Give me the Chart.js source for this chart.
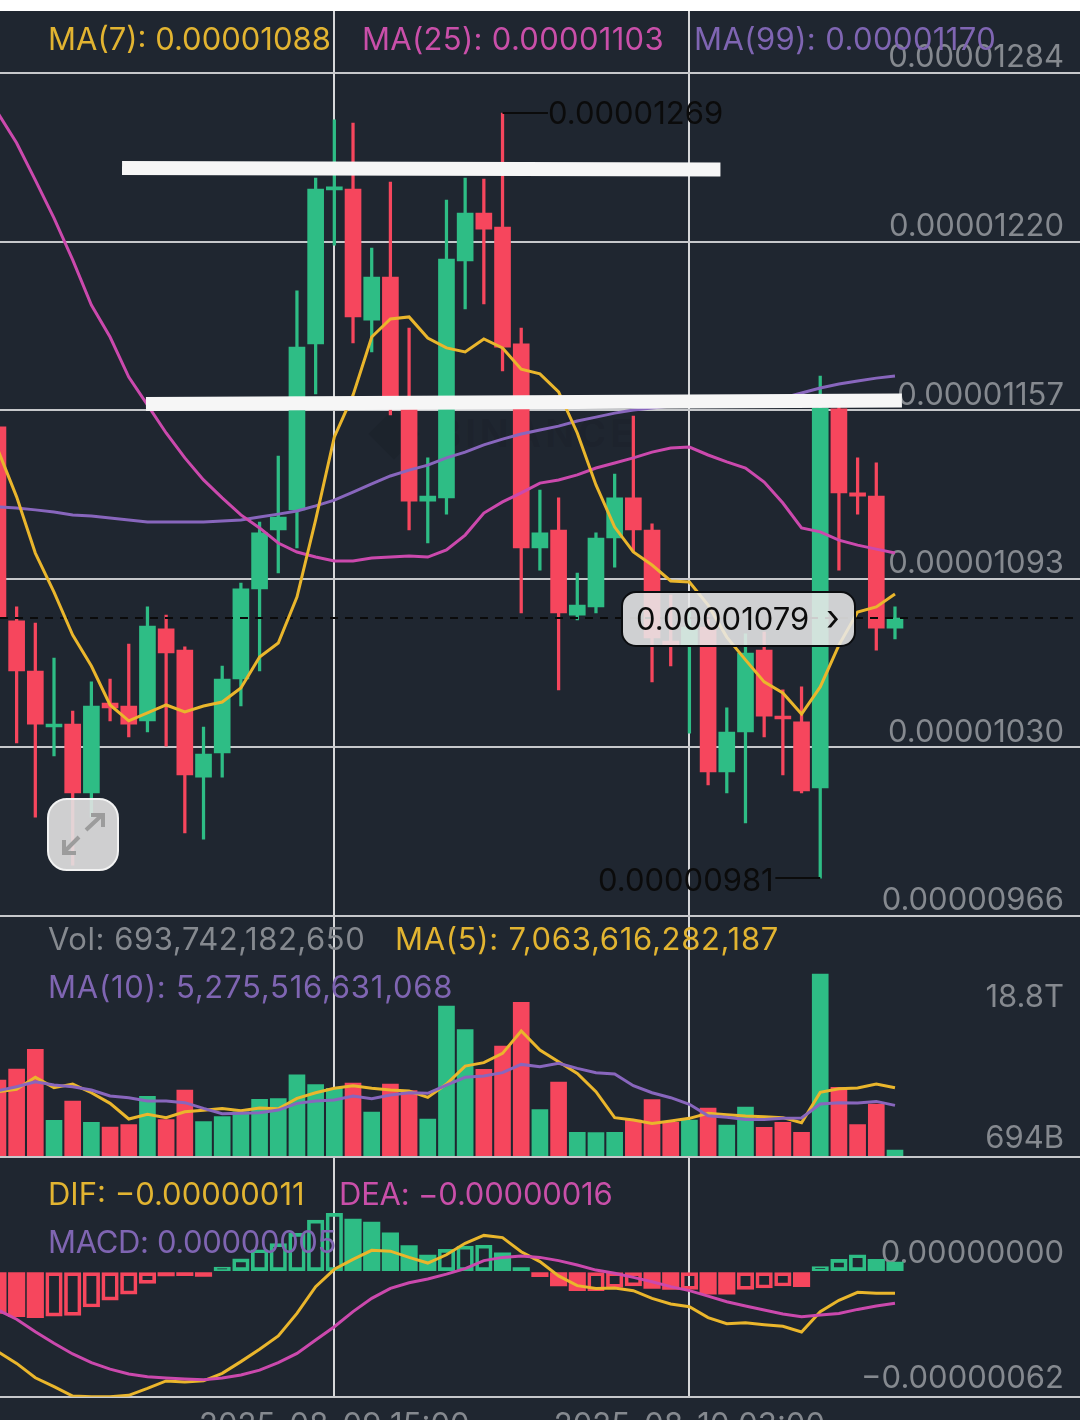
<!DOCTYPE html>
<html>
<head>
<meta charset="utf-8">
<title>Candlestick chart</title>
<script src="https://cdn.jsdelivr.net/npm/chart.js@4"></script>
<style>
html,body{margin:0;padding:0;background:#fff;width:1080px;height:1420px;overflow:hidden}
#panel{position:absolute;left:0;top:11px;width:1080px;height:1409px;background:#1f2630;overflow:hidden}
#chart{position:absolute;left:0;top:11px}
.t{position:absolute;white-space:nowrap;font-family:Inter,sans-serif;font-size:31px;line-height:40px;height:40px}
.y{color:#e2b431}.p{color:#c94fa9}.u{color:#7f65b2}.g{color:#85898f}.k{color:#0b0b0b}
#pill{position:absolute;left:621px;top:591px;width:231px;height:52px;border:2px solid #0b0d10;border-radius:15px;background:rgba(232,232,232,.88)}
#expand{position:absolute;left:47px;top:798px;width:68px;height:69px;border:2px solid #f2f2f2;border-radius:20px;background:rgba(226,226,226,.9)}
#mark{position:absolute;left:436px;top:410px;font:700 38px Inter,sans-serif;letter-spacing:4px;color:rgba(0,0,0,.08);white-space:nowrap}
#markIcon{position:absolute;left:376px;top:416px;width:36px;height:36px;transform:rotate(45deg);background:rgba(0,0,0,.08)}
</style>
</head>
<body>
<div id="panel"></div>
<div id="markIcon"></div>
<div id="mark">BINANCE</div>
<canvas id="chart" width="1080" height="1449"></canvas>

<div class="t y" style="left:48px;top:19px">MA(7): 0.00001088</div>
<div class="t p" style="left:362px;top:19px;letter-spacing:.3px">MA(25): 0.00001103</div>
<div class="t u" style="left:694px;top:19px;letter-spacing:.4px">MA(99): 0.00001170</div>
<div class="t k" style="left:548px;top:93px">0.00001269</div>
<div class="t k" style="left:598px;top:860px">0.00000981</div>
<div id="pill"></div>
<div class="t k" style="left:636px;top:599px">0.00001079</div>
<div class="t k" style="left:826px;top:597px;font-size:36px">›</div>
<div id="expand"><svg width="68" height="69" viewBox="0 0 68 69" fill="none" stroke="#9c9c9c" stroke-width="4"><path d="M37 30L53 15M42 15H54V27M30 37L15 52M15 40V53H27"/></svg></div>
<div class="t g" style="left:48px;top:919px;letter-spacing:.55px">Vol: 693,742,182,650</div>
<div class="t y" style="left:395px;top:919px;letter-spacing:.7px">MA(5): 7,063,616,282,187</div>
<div class="t u" style="left:48px;top:967px;letter-spacing:.76px">MA(10): 5,275,516,631,068</div>
<div class="t g" style="right:16px;top:976px">18.8T</div>
<div class="t y" style="left:48px;top:1174px">DIF: −0.00000011</div>
<div class="t p" style="left:339px;top:1174px;letter-spacing:-.2px">DEA: −0.00000016</div>
<div class="t u" style="left:48px;top:1222px;letter-spacing:-.35px">MACD: 0.00000005</div>

<script>
// All prices and MACD values are in units of 0.00000001; volumes are in trillions.
const opens = [1150.5,1077.3,1058.4,1037.3,1038.4,1012.4,1046.3,1045.2,1039.6,1074.3,1066.3,1018.4,1027.5,1055.4,1089.4,1111.6,1119.2,1181.8,1239.9,1240.2,1190.8,1207.0,1161.8,1122.5,1123.7,1213.1,1231.2,1225.9,1181.8,1104.8,1111.6,1079.5,1082.6,1108.6,1123.7,1111.6,1069.7,1067.9,1075.0,1020.3,1035.4,1066.3,1041.1,1039.2,1014.3,1157.3,1125.6,1124.4,1074.6];
const highs = [1151.2,1082.6,1076.5,1063.3,1043.3,1054.3,1055.4,1068.6,1082.6,1079.5,1067.5,1037.3,1060.3,1091.6,1114.6,1139.5,1201.8,1244.4,1266.3,1265.1,1218.0,1242.9,1187.8,1138.8,1236.1,1244.4,1244.0,1268.9,1187.8,1126.7,1123.7,1095.4,1110.5,1132.7,1154.6,1113.9,1087.1,1080.7,1079.5,1044.5,1072.4,1073.1,1051.3,1052.4,1169.7,1158.8,1138.8,1136.9,1082.6];
const lows = [1078.4,1031.3,1003.3,1026.4,985.2,1003.3,1039.6,1033.5,1035.4,1030.1,997.3,995.0,1018.4,1045.2,1058.4,1095.4,1104.8,1162.9,1219.1,1182.2,1178.8,1155.0,1111.6,1106.7,1117.6,1195.0,1196.9,1171.6,1080.3,1096.5,1051.3,1077.7,1080.3,1097.6,1103.3,1054.3,1060.3,1035.0,1015.4,1012.4,1001.1,1033.5,1019.2,1012.4,980.3,1096.5,1117.6,1066.3,1070.5];
const closes = [1078.4,1058.4,1038.4,1038.0,1012.4,1045.2,1044.5,1038.4,1075.4,1065.2,1019.2,1027.1,1055.4,1089.4,1110.5,1116.5,1180.6,1240.2,1241.0,1192.0,1207.0,1161.8,1122.5,1124.4,1213.8,1231.2,1225.1,1180.6,1104.8,1110.5,1080.3,1083.3,1108.6,1123.7,1111.6,1070.9,1067.9,1075.0,1020.3,1035.4,1065.2,1041.4,1040.3,1013.2,1157.6,1125.6,1124.4,1074.6,1078.4];
const ma7 = [1141.8,1124.1,1102.9,1088.2,1072.0,1060.3,1045.6,1039.6,1042.6,1045.6,1043.0,1045.2,1046.7,1052.0,1063.7,1069.0,1086.3,1115.4,1146.7,1162.5,1184.4,1191.2,1192.0,1184.0,1180.3,1178.8,1183.7,1180.3,1172.3,1170.5,1163.7,1148.2,1128.6,1112.7,1103.3,1098.4,1092.4,1092.0,1083.3,1071.2,1062.6,1054.3,1050.1,1042.2,1052.4,1068.2,1080.7,1082.6,1087.5];
const ma25 = [1268.9,1257.6,1243.6,1229.3,1213.5,1196.5,1184.4,1169.3,1158.8,1148.2,1138.8,1130.5,1123.7,1117.3,1112.4,1106.7,1103.3,1101.4,1099.9,1099.9,1101.0,1101.4,1101.8,1101.4,1104.1,1109.7,1118.0,1122.2,1125.6,1129.3,1130.5,1132.4,1135.0,1136.9,1138.8,1141.0,1142.5,1142.9,1139.9,1137.3,1135.0,1129.7,1121.8,1112.4,1110.9,1107.8,1105.9,1104.4,1102.9];
const ma99 = [1120.3,1119.9,1119.2,1118.4,1117.3,1116.9,1116.1,1115.4,1114.6,1114.6,1114.6,1114.6,1115.0,1115.4,1116.5,1117.6,1118.8,1120.7,1122.9,1125.9,1129.0,1132.0,1134.2,1136.1,1138.8,1141.0,1143.7,1145.9,1147.8,1149.3,1150.8,1152.7,1154.2,1155.7,1156.9,1157.6,1158.4,1159.1,1159.5,1159.9,1160.6,1161.0,1161.4,1163.3,1165.2,1166.7,1167.8,1168.9,1169.7];
const volumes = [7.88,9.0,11.03,3.73,5.72,3.53,3.05,3.29,6.2,3.8,6.85,3.6,4.11,4.62,5.89,5.96,8.42,7.4,7.02,7.57,4.59,7.46,6.78,3.87,15.48,13.05,8.97,11.37,15.85,4.83,7.67,2.5,2.47,2.5,3.77,5.86,3.53,3.77,5.0,3.25,5.1,3.01,3.53,2.5,18.76,7.12,3.29,5.41,0.69];
const volMa5 = [6.68,6.92,8.15,7.09,7.46,6.57,5.48,3.87,4.35,4.01,4.62,4.76,4.96,4.73,5.0,4.93,5.99,6.57,7.02,7.29,7.02,6.85,6.75,6.09,7.46,9.31,9.66,10.61,12.91,10.96,9.76,8.56,6.68,4.01,3.77,3.42,3.66,3.94,4.45,4.31,4.18,4.11,4.01,3.49,6.61,6.98,7.05,7.46,7.09];
const volMa10 = [6.78,7.19,7.7,7.36,7.19,6.85,6.23,6.06,5.72,5.72,5.55,4.96,4.42,4.45,4.52,4.79,5.48,5.72,5.82,6.23,5.96,6.33,6.57,6.51,7.36,8.15,8.29,8.63,9.48,9.24,9.59,9.07,8.63,8.49,7.29,6.57,6.06,5.38,4.21,4.04,3.83,3.83,3.94,3.97,5.41,5.55,5.51,5.68,5.27];
const macdHist = [-20.7,-22.3,-22.8,-22.0,-21.7,-17.5,-14.1,-11.1,-5.8,-2.1,-2.0,-2.3,2.3,6.4,10.9,13.9,19.0,25.6,28.9,26.1,24.6,19.3,12.9,8.3,11.1,12.7,13.1,9.4,2.0,-2.5,-7.1,-9.4,-9.4,-7.8,-7.0,-8.3,-8.8,-8.8,-11.1,-11.1,-8.8,-8.1,-7.1,-7.4,2.5,6.1,8.4,6.1,4.8];
const macdHollow = [0,0,0,1,1,1,1,1,1,0,0,0,1,1,1,1,1,1,1,0,0,0,0,0,1,1,1,0,0,0,0,0,1,1,1,0,0,1,0,0,1,1,1,0,1,1,1,0,0];
const dif = [-39.7,-45.5,-52.6,-57.0,-61.7,-62.0,-62.0,-61.3,-57.9,-54.2,-54.7,-54.1,-50.4,-44.6,-38.5,-31.9,-20.7,-7.4,1.2,6.1,10.6,10.2,7.1,4.3,8.4,14.1,18.0,16.9,9.9,5.0,-2.1,-6.9,-8.3,-8.1,-9.4,-13.2,-16.0,-17.4,-22.8,-25.8,-25.3,-26.3,-27.1,-29.9,-19.8,-14.2,-10.2,-10.7,-10.7];
const dea = [-19.0,-23.6,-29.8,-35.5,-40.8,-45.1,-48.3,-50.7,-52.1,-52.7,-53.2,-53.6,-52.7,-51.2,-48.8,-45.1,-40.5,-33.9,-27.3,-19.8,-13.2,-8.3,-5.5,-3.6,-1.2,1.5,5.5,7.1,7.8,7.1,5.5,3.3,0.8,-0.8,-2.8,-5.0,-7.4,-9.4,-12.1,-14.9,-17.0,-19.0,-21.0,-22.3,-21.5,-20.7,-18.7,-17.0,-15.7];

const priceTicks = [966,1029.6,1093.2,1156.8,1220.4,1284];
const timeTicks = [18,37];
const timeLabels = ['2025-08-09 15:00','2025-08-10 03:00'];
const lastPrice = [1078.4,1078.4];
const priceSpan = [0.11,57.9];
const highMarker = {x:[27,29.43],y:[1268.9,1268.9]};
const lowMarker = {x:[44,41.6],y:[980.3,980.3]};
const upperDrawn = {x:[6.64,38.66],y:[1248.2,1247.6]};
const lowerDrawn = {x:[7.92,48.37],y:[1159.1,1160.5]};

const UP='#2ebd85', DOWN='#f6465d', GRID='#c6c8cb', FONT='Inter, sans-serif', TICK='#85898f';
const YEL='#eab62c', PINK='#cb49ad', PURP='#8866bd';
const idx = closes.map((_,i)=>i);
const isUp = i => closes[i] >= opens[i];
const dirColor = c => isUp(c.dataIndex) ? UP : DOWN;
const series = arr => idx.map(i=>({x:i,y:arr[i]}));
const pts = o => o.x.map((x,i)=>({x,y:o.y[i]}));
const line = (data,color,yAxisID,order,width=3,extra={}) => Object.assign({type:'line',data,borderColor:color,borderWidth:width,pointRadius:0,tension:0,yAxisID,xAxisID:'x',order,fill:false},extra);
const zeroFit = s => {s.width=0;s.paddingTop=0;s.paddingBottom=0;s.paddingLeft=0;s.paddingRight=0;};
const yAxis = (weight,min,max,values,label,offset) => ({
  type:'linear',position:'right',stack:'panels',stackWeight:weight,min,max,
  border:{display:false},
  grid:{color:c=>(c.tick&&c.tick.value===0&&min<0)?'rgba(0,0,0,0)':GRID,lineWidth:2,drawTicks:false},
  afterBuildTicks:s=>{s.ticks=values.map(value=>({value}));},
  afterFit:zeroFit,
  ticks:{mirror:true,padding:-16,labelOffset:offset,color:TICK,autoSkip:false,font:{family:FONT,size:31},callback:label}
});

new Chart(document.getElementById('chart'),{
  type:'bar',
  data:{datasets:[
    line(pts(lowerDrawn),'#f6f6f6','yPrice',1,14),
    line(pts(upperDrawn),'#f6f6f6','yPrice',1,14),
    line(pts(highMarker),'#0b0b0b','yPrice',2,2),
    line(pts(lowMarker),'#0b0b0b','yPrice',2,2),
    line(series(ma7),YEL,'yPrice',3),
    line(series(ma25),PINK,'yPrice',4),
    line(series(ma99),PURP,'yPrice',5),
    line(priceSpan.map((x,i)=>({x,y:lastPrice[i]})),'#0b0b0b','yPrice',6,2,{borderDash:[8,7]}),
    {type:'bar',yAxisID:'yPrice',xAxisID:'x',order:7,grouped:false,barThickness:16,minBarLength:3,
      data:idx.map(i=>({x:i,y:[Math.min(opens[i],closes[i]),Math.max(opens[i],closes[i])]})),backgroundColor:dirColor},
    {type:'bar',yAxisID:'yPrice',xAxisID:'x',order:8,grouped:false,barThickness:2.6,
      data:idx.map(i=>({x:i,y:[lows[i],highs[i]]})),backgroundColor:dirColor},
    line(series(volMa5),YEL,'yVol',3),
    line(series(volMa10),PURP,'yVol',2),
    {type:'bar',yAxisID:'yVol',xAxisID:'x',order:7,grouped:false,barThickness:16,data:series(volumes),backgroundColor:dirColor},
    line(series(dif),YEL,'yMacd',3),
    line(series(dea),PINK,'yMacd',2),
    {type:'bar',yAxisID:'yMacd',xAxisID:'x',order:7,grouped:false,barThickness:16.5,data:series(macdHist),
      borderSkipped:false,
      backgroundColor:c=>macdHollow[c.dataIndex]?'rgba(0,0,0,0)':(macdHist[c.dataIndex]>=0?UP:DOWN),
      borderColor:c=>macdHist[c.dataIndex]>=0?UP:DOWN,
      borderWidth:c=>macdHollow[c.dataIndex]?3:0}
  ]},
  options:{
    responsive:false,animation:false,devicePixelRatio:1,
    layout:{padding:0},
    plugins:{legend:{display:false},tooltip:{enabled:false},title:{display:false}},
    scales:{
      x:{type:'linear',offset:false,min:priceSpan[0],max:priceSpan[1],
        border:{display:false},
        grid:{offset:false,color:'#d6d7d9',lineWidth:2,drawTicks:false},
        afterBuildTicks:s=>{s.ticks=timeTicks.map(value=>({value}));},
        afterFit:s=>{s.height=63.3;s.paddingLeft=0;s.paddingRight=0;s.paddingTop=0;s.paddingBottom=0;},
        ticks:{padding:10,color:TICK,autoSkip:false,maxRotation:0,font:{family:FONT,size:31},
          callback:v=>timeLabels[timeTicks.indexOf(v)]}},
      yPrice:yAxis(905.5,965.8,1307.4,priceTicks,v=>(Math.round(v)/1e8).toFixed(8),-15),
      yVol:yAxis(240.2,0,24.67,[0],()=>'694B',-18),
      yMacd:yAxis(240,-62,57.04,[-62,0],v=>(v<0?'−':'')+(Math.abs(v)/1e8).toFixed(8),-18)
    }
  }
});
</script>
</body>
</html>
